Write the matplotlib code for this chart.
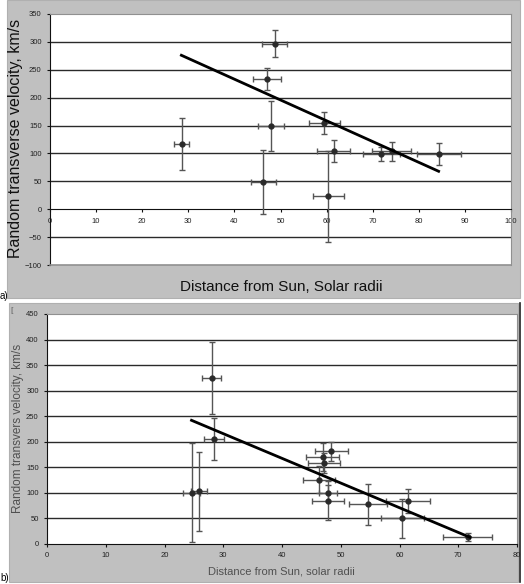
import matplotlib
matplotlib.use('Agg')
import matplotlib.pyplot as plt
from matplotlib.patches import Rectangle
import numpy as np

plt.rcParams['font.family'] = ['Liberation Sans', 'DejaVu Sans']

# panel a) data
a_dist = [28.6, 48.7, 47.1, 48.0, 46.3, 59.5, 61.5, 60.4, 71.9, 74.1, 84.4]
a_vel = [117, 297, 233, 149, 49, 155, 104, 23, 99, 104, 99]
a_dist_err = [1.6, 2.75, 3.0, 2.8, 2.7, 3.4, 3.5, 3.4, 4.1, 4.2, 4.8]
a_vel_err = [46, 24, 20, 45, 58, 20, 20, 81, 13, 17, 19]
a_fit_x = [28.5, 84.3]
a_fit_y = [276, 68]

# panel b) data
b_dist = [28.05, 28.45, 24.6, 25.9, 46.9, 48.4, 47.2, 46.3, 47.85, 47.85, 54.6, 60.5, 61.45, 71.6]
b_vel = [325, 206, 100, 103, 170, 181, 159, 126, 100, 85, 78, 50, 84, 13]
b_dist_err = [1.6, 1.7, 1.5, 1.4, 2.75, 2.8, 2.7, 2.7, 1.5, 2.7, 3.25, 3.6, 3.7, 4.15]
b_vel_err = [70, 41, 97, 77, 28, 18, 20, 27, 15, 38, 40, 39, 24, 8]
b_fit_x = [24.6, 72.0]
b_fit_y = [242, 13]

W, H = 524, 584
fig = plt.figure(figsize=(W / 100, H / 100), dpi=100)
fig.patch.set_facecolor('white')

def px_rect(x0, y0, x1, y1):
    return [x0 / W, 1 - y1 / H, (x1 - x0) / W, (y1 - y0) / H]

# gray chart backgrounds
for (x0, y0, x1, y1) in [(7, 0, 520, 298), (9, 303, 518, 582)]:
    r = px_rect(x0, y0, x1, y1)
    fig.patches.append(Rectangle((r[0], r[1]), r[2], r[3], transform=fig.transFigure,
                                 facecolor='#c0c0c0', edgecolor='#b0b0b0', lw=0.8, zorder=-1))
fig.add_artist(plt.Line2D([520 / W, 520 / W], [1 - 303 / H, 1 - 582 / H], color='#222222', lw=1.2))


def style(ax, xmax, ymin, ymax, step):
    ax.set_facecolor('white')
    ax.set_xlim(0, xmax)
    ax.set_ylim(ymin, ymax)
    ax.set_xticks(np.arange(0, xmax + 1, 10))
    ax.set_yticks(np.arange(ymin, ymax + 1, step))
    for y in np.arange(ymin + step, ymax, step):
        if y != 0:
            ax.axhline(y, color='#2a2a2a', lw=1.0, zorder=1)
    ax.spines['top'].set_color('#909090')
    ax.spines['right'].set_color('#909090')
    ax.spines['left'].set_color('#111111')
    ax.spines['bottom'].set_color('#111111')
    ax.tick_params(labelsize=5.5, labelcolor='#222222', length=2.5, width=0.8, color='#111111')


# ---- panel a
ax1 = fig.add_axes(px_rect(50, 14, 511, 265))
style(ax1, 100, -100, 350, 50)
ax1.spines['bottom'].set_position(('data', 0))
ax1.axhline(-100, color='#909090', lw=1.2, clip_on=False, zorder=3)
ax1.errorbar(a_dist, a_vel, xerr=a_dist_err, yerr=a_vel_err, fmt='o', color='#2a2a2a',
             ecolor='#555555', elinewidth=1.0, capsize=2.5, markersize=3.5, zorder=4)
ax1.plot(a_fit_x, a_fit_y, color='black', lw=2.0, zorder=5)
fig.text(16 / W, 1 - 138 / H, 'Random transverse velocity, km/s', rotation=90,
         ha='center', va='center', fontsize=11.5, color='#111111')
fig.text(281 / W, 1 - 287 / H, 'Distance from Sun, Solar radii',
         ha='center', va='center', fontsize=11, color='#111111')
fig.text(0, 1 - 296 / H, 'a)', ha='left', va='center', fontsize=7)

# ---- panel b
ax2 = fig.add_axes(px_rect(47, 314, 517, 544))
style(ax2, 80, 0, 450, 50)
ax2.errorbar(b_dist, b_vel, xerr=b_dist_err, yerr=b_vel_err, fmt='o', color='#2a2a2a',
             ecolor='#555555', elinewidth=1.0, capsize=2.5, markersize=3.5, zorder=4)
ax2.plot(b_fit_x, b_fit_y, color='black', lw=2.0, zorder=5)
fig.text(18 / W, 1 - 428 / H, 'Random transvers velocity, km/s', rotation=90,
         ha='center', va='center', fontsize=8.5, color='#505050')
fig.text(281 / W, 1 - 572 / H, 'Distance from Sun, solar radii',
         ha='center', va='center', fontsize=8, color='#505050')
fig.text(0, 1 - 578 / H, 'b)', ha='left', va='center', fontsize=7)
fig.text(10 / W, 1 - 310 / H, '[', ha='left', va='center', fontsize=6, color='#606060')

fig.savefig('out.png', dpi=100)
